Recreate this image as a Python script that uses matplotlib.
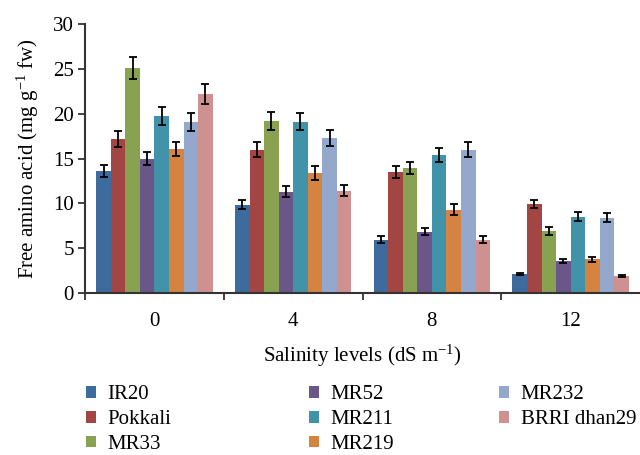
import numpy as np
import matplotlib
matplotlib.use('Agg')
import matplotlib.pyplot as plt

plt.rcParams['font.family'] = ['Liberation Serif', 'DejaVu Serif']
plt.rcParams['mathtext.fontset'] = 'custom'
plt.rcParams['mathtext.rm'] = 'Liberation Serif'
plt.rcParams['mathtext.it'] = 'Liberation Serif:italic'

levels = ['0', '4', '8', '12']
cultivars = ['IR20', 'Pokkali', 'MR33', 'MR52', 'MR211', 'MR219', 'MR232', 'BRRI dhan29']
colors = ['#3D6B9D', '#A34543', '#88A251', '#6B568A', '#4093A8', '#D48340', '#93A8CC', '#CE9190']

# mean values per cultivar at salinity 0, 4, 8, 12
values = {
    'IR20':        [13.6, 9.85, 5.95, 2.15],
    'Pokkali':     [17.2, 16.0, 13.5, 9.95],
    'MR33':        [25.1, 19.2, 13.95, 6.95],
    'MR52':        [15.0, 11.3, 6.85, 3.6],
    'MR211':       [19.75, 19.1, 15.4, 8.5],
    'MR219':       [16.1, 13.4, 9.3, 3.75],
    'MR232':       [19.1, 17.3, 16.0, 8.4],
    'BRRI dhan29': [22.2, 11.4, 5.95, 1.93],
}
errors = {
    'IR20':        [0.7, 0.5, 0.37, 0.1],
    'Pokkali':     [0.87, 0.85, 0.72, 0.48],
    'MR33':        [1.25, 1.0, 0.72, 0.43],
    'MR52':        [0.75, 0.6, 0.37, 0.25],
    'MR211':       [1.0, 0.95, 0.82, 0.5],
    'MR219':       [0.8, 0.75, 0.6, 0.28],
    'MR232':       [1.0, 0.85, 0.85, 0.48],
    'BRRI dhan29': [1.1, 0.6, 0.37, 0.13],
}

fig = plt.figure(figsize=(6.4, 4.55), dpi=100)
ax = fig.add_axes([0.133, 0.356, 0.867, 0.591])

x = np.arange(len(levels))
w = 0.84 / len(cultivars)
bars = []
for i, name in enumerate(cultivars):
    pos = x - 0.42 + w * (i + 0.5)
    b = ax.bar(pos, values[name], width=w, color=colors[i], label=name,
               yerr=errors[name], capsize=3,
               error_kw=dict(ecolor='black', elinewidth=1.3, capthick=1.3))
    bars.append(b)

ax.set_xlim(-0.5, 3.5)
ax.set_ylim(0, 30)
ax.set_yticks(range(0, 31, 5))
ax.set_xticks(x)
ax.set_xticklabels(levels)
ax.set_xticks([-0.5, 0.5, 1.5, 2.5], minor=True)
ax.tick_params(axis='x', which='major', length=0, pad=14, labelsize=15)
ax.tick_params(axis='x', which='minor', length=5, width=1.3, color='#333333')
ax.tick_params(axis='y', length=5, width=1.3, color='#333333', labelsize=15, pad=3)
for s in ['top', 'right']:
    ax.spines[s].set_visible(False)
for s in ['left', 'bottom']:
    ax.spines[s].set_linewidth(1.5)
    ax.spines[s].set_color('#333333')

ax.set_ylabel(r'Free amino acid (mg g$^{-1}$ fw)', fontsize=15, labelpad=9)
ax.set_xlabel(r'Salinity levels (dS m$^{-1}$)', fontsize=15, labelpad=8)

# legend laid out in three columns
col_groups = [[0, 1, 2], [3, 4, 5], [6, 7]]
col_x = [0.134, 0.483, 0.780]
for cx, idxs in zip(col_x, col_groups):
    fig.legend([bars[k] for k in idxs], [cultivars[k] for k in idxs],
               loc='upper left', bbox_to_anchor=(cx, 0.153), frameon=False,
               fontsize=15, handlelength=0.48, handleheight=0.48,
               handletextpad=0.55, labelspacing=0.28, borderaxespad=0,
               borderpad=0)

fig.savefig('out.png', dpi=100)
